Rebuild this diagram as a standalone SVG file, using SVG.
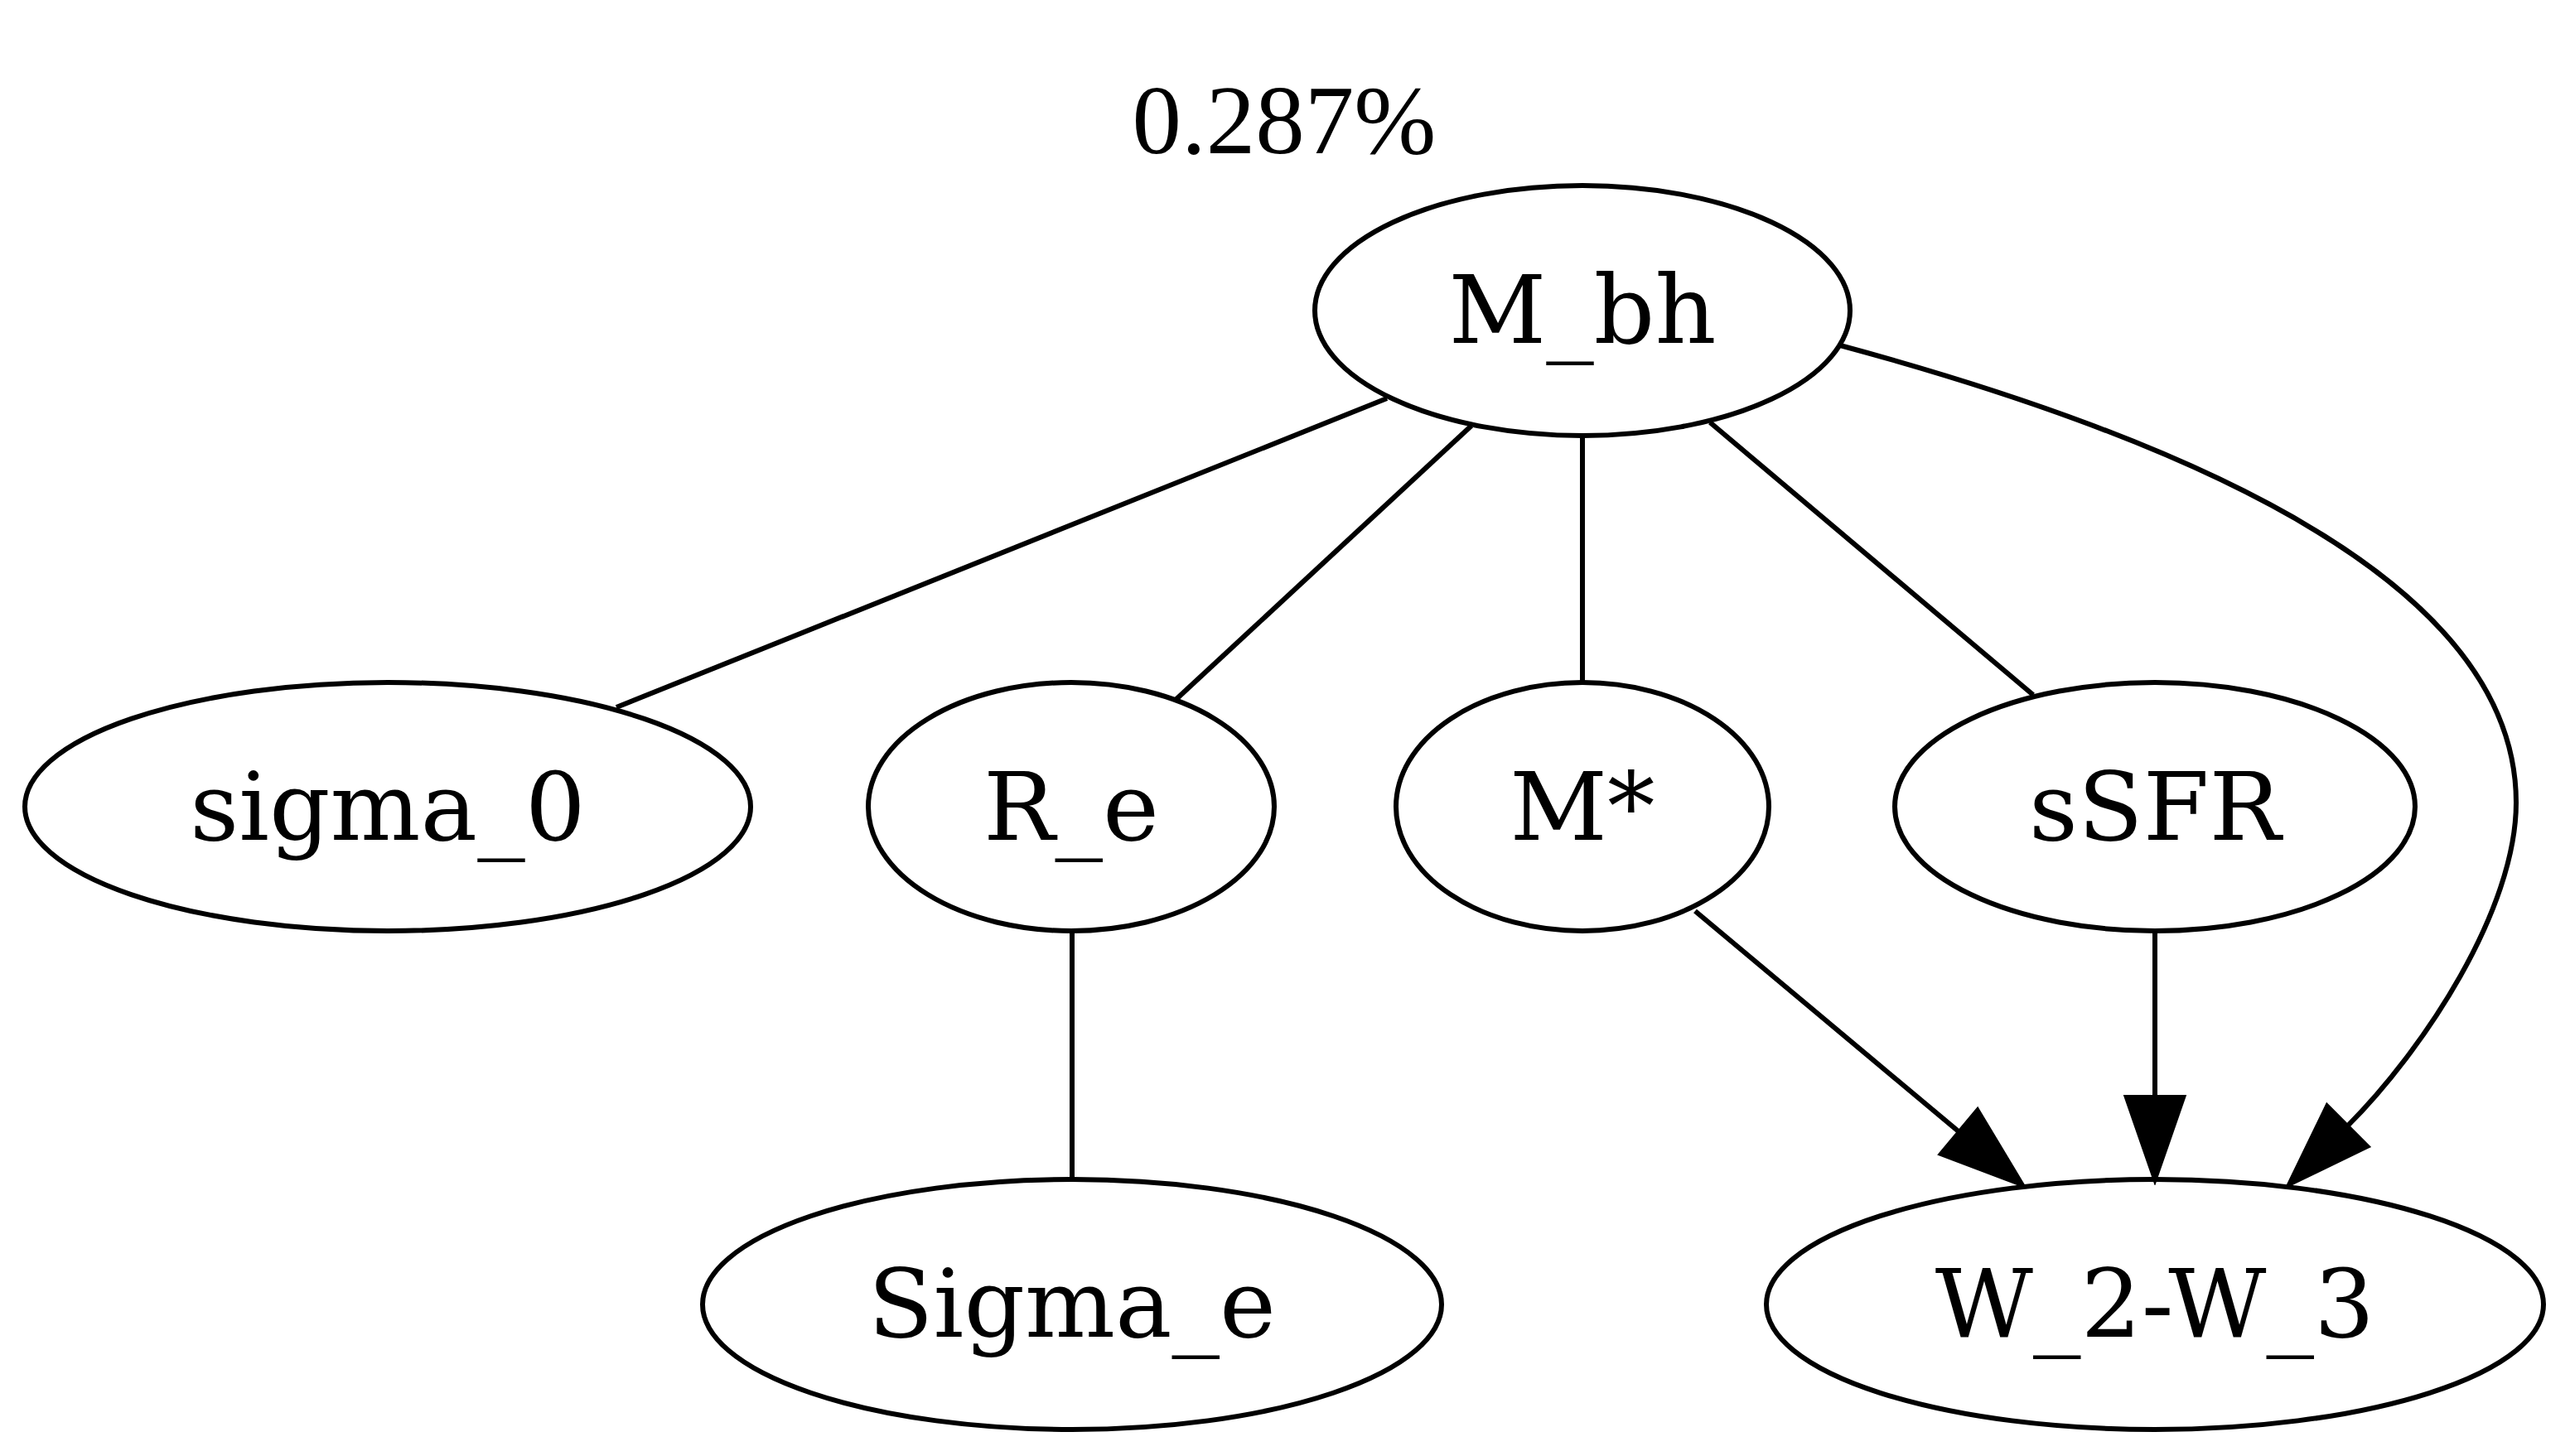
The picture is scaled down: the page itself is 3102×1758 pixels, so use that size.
<svg xmlns="http://www.w3.org/2000/svg" width="3102" height="1758" viewBox="0 0 3102 1758">
<style>
.node ellipse{fill:none;stroke:#000;stroke-width:6}
.node text{font-family:"DejaVu Serif","Liberation Serif",serif;font-size:115px;fill:#000;text-anchor:middle}
.title{font-family:"Liberation Serif","DejaVu Serif",serif;font-size:119px;fill:#000;text-anchor:middle}
.edges path{fill:none;stroke:#000;stroke-width:6}
</style>
<defs>
<marker id="arrow" markerUnits="userSpaceOnUse" markerWidth="110" markerHeight="80" viewBox="-4 -40 110 80" refX="0" refY="0" orient="auto">
<path d="M0,-34 L98,0 L0,34 Z" fill="#000" stroke="#000" stroke-width="6"/>
</marker>
</defs>
<rect x="0" y="0" width="3102" height="1758" fill="#fff"/>
<text class="title" x="1550" y="185">0.287%</text>
<g class="edges">
<path d="M1674,481 L744,854"/>
<path d="M1776,514 L1420,844"/>
<path d="M1910,526 L1910,824"/>
<path d="M2064,510 L2454,839"/>
<path d="M1294,1124 L1294,1424"/>
<path d="M2046,1100 L2365,1367" marker-end="url(#arrow)"/>
<path d="M2601,1124 L2601,1325" marker-end="url(#arrow)"/>
<path d="M2221,417 C2691,544 3037,719 3037,969 C3037,1099 2925,1268 2833,1360" marker-end="url(#arrow)"/>
</g>
<g id="node-M_bh" class="node"><ellipse cx="1910" cy="375" rx="323" ry="151"/><text x="1910" y="414">M_bh</text></g>
<g id="node-sigma_0" class="node"><ellipse cx="468" cy="974" rx="438" ry="150"/><text x="468" y="1014">sigma_0</text></g>
<g id="node-R_e" class="node"><ellipse cx="1293" cy="974" rx="245" ry="150"/><text x="1293" y="1014">R_e</text></g>
<g id="node-Mstar" class="node"><ellipse cx="1910" cy="974" rx="225" ry="150"/><text x="1910" y="1014">M*</text></g>
<g id="node-sSFR" class="node"><ellipse cx="2601" cy="974" rx="314" ry="150"/><text x="2601" y="1014">sSFR</text></g>
<g id="node-Sigma_e" class="node"><ellipse cx="1294" cy="1575" rx="446" ry="151"/><text x="1294" y="1614">Sigma_e</text></g>
<g id="node-W2W3" class="node"><ellipse cx="2601" cy="1575" rx="469" ry="151"/><text x="2601" y="1614">W_2-W_3</text></g>
</svg>
